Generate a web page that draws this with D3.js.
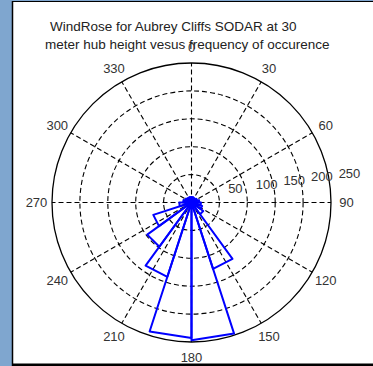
<!DOCTYPE html>
<html>
<head>
<meta charset="utf-8">
<script src="https://cdn.jsdelivr.net/npm/d3@7"></script>
<style>
body { margin: 0; background: #7fa6cf; overflow: hidden; }
svg { display: block; }
text { font-family: Arial, "Liberation Sans", sans-serif; }
</style>
</head>
<body>
<svg width="373" height="366"></svg>
<script>
// wind direction bins, 18 degrees wide, compass angles (0 = north, clockwise)
const binStart = [0, 18, 36, 54, 72, 90, 108, 126, 144, 162, 180, 198, 216, 234, 252, 270, 288, 306, 324, 342];
const counts   = [10, 9, 9, 11, 14, 17, 20, 26, 125, 247, 243, 140, 98, 72, 22, 15, 12, 10, 10, 10];

const spokeAngles = [0, 30, 60, 90, 120, 150, 180, 210, 240, 270, 300, 330];
const ringTicks = [50, 100, 150, 200, 250];
const titleLines = ["WindRose for Aubrey Cliffs SODAR at 30", "meter hub height vesus frequency of occurence"];

const svg = d3.select("svg");
const cx = 191.5, cy = 202.5, R = 139.5;
const binWidth = 18;

const r = d3.scaleLinear()
    .domain([0, d3.max(ringTicks)])
    .range([0, R]);

// compass angle + radius in px -> screen point
const pt = (a, rad) => {
    const t = a * Math.PI / 180;
    return [cx + rad * Math.sin(t), cy - rad * Math.cos(t)];
};

// panel (white with black frame on left, top and bottom)
svg.append("rect")
    .attr("x", 13).attr("y", 2)
    .attr("width", 360).attr("height", 362)
    .attr("fill", "#fff");
svg.append("line")
    .attr("x1", 12.5).attr("x2", 12.5).attr("y1", 1).attr("y2", 366)
    .attr("stroke", "#000").attr("stroke-width", 1.5);
svg.append("line")
    .attr("x1", 12).attr("x2", 373).attr("y1", 1.5).attr("y2", 1.5)
    .attr("stroke", "#000").attr("stroke-width", 1.2);
svg.append("rect")
    .attr("x", 12).attr("y", 363.5)
    .attr("width", 361).attr("height", 3)
    .attr("fill", "#000");

// title
svg.selectAll(".title")
    .data(titleLines)
    .enter()
    .append("text")
    .attr("class", "title")
    .attr("x", (d, i) => i === 0 ? 50 : 45)
    .attr("y", (d, i) => 31 + i * 18)
    .attr("font-size", 13.5)
    .attr("fill", "#222")
    .text(d => d);

const grid = svg.append("g");

// dashed rings
grid.selectAll(".ring")
    .data(ringTicks.slice(0, -1))
    .enter()
    .append("circle")
    .attr("class", "ring")
    .attr("cx", cx).attr("cy", cy)
    .attr("r", d => r(d))
    .attr("fill", "none")
    .attr("stroke", "#000")
    .attr("stroke-width", 1.1)
    .attr("stroke-dasharray", "5,3");

// spokes
grid.selectAll(".spoke")
    .data(spokeAngles)
    .enter()
    .append("line")
    .attr("class", "spoke")
    .attr("x1", cx).attr("y1", cy)
    .attr("x2", d => pt(d, R)[0])
    .attr("y2", d => pt(d, R)[1])
    .attr("stroke", "#000")
    .attr("stroke-width", 1.1)
    .attr("stroke-dasharray", "5,3");

// outer circle
grid.append("circle")
    .attr("cx", cx).attr("cy", cy)
    .attr("r", r(d3.max(ringTicks)))
    .attr("fill", "none")
    .attr("stroke", "#000")
    .attr("stroke-width", 1.3);

// spoke labels
svg.selectAll(".alabel")
    .data(spokeAngles)
    .enter()
    .append("text")
    .attr("class", "alabel")
    .attr("x", d => pt(d, 155)[0])
    .attr("y", d => pt(d, 155)[1])
    .attr("dy", "0.36em")
    .attr("text-anchor", "middle")
    .attr("font-size", 13)
    .attr("fill", "#333")
    .text(d => d);

// radial labels, placed along 82 degrees like matlab's polar
svg.selectAll(".rlabel")
    .data(ringTicks)
    .enter()
    .append("text")
    .attr("class", "rlabel")
    .attr("x", d => pt(82, r(d))[0] + 9)
    .attr("y", d => pt(82, r(d))[1] - 5.5)
    .attr("font-size", 13)
    .attr("fill", "#333")
    .text(d => d);

// rose wedges
svg.selectAll(".wedge")
    .data(binStart)
    .enter()
    .append("path")
    .attr("class", "wedge")
    .attr("d", (a, i) => {
        const p1 = pt(a, r(counts[i]));
        const p2 = pt(a + binWidth, r(counts[i]));
        return `M${cx},${cy}L${p1}L${p2}Z`;
    })
    .attr("fill", "none")
    .attr("stroke", "#0000ff")
    .attr("stroke-width", 2)
    .attr("stroke-linejoin", "round");
</script>
</body>
</html>
